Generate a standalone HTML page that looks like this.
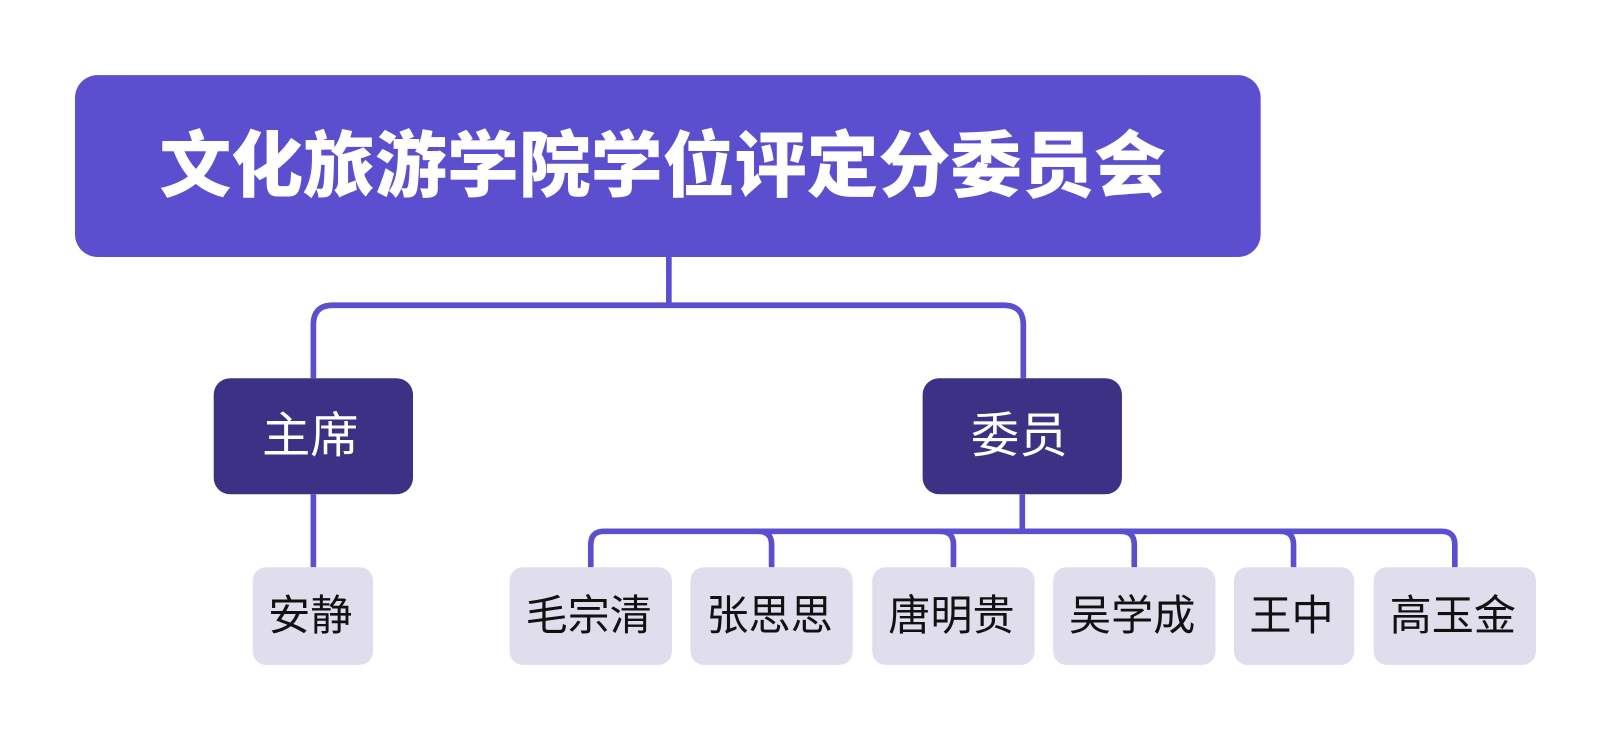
<!DOCTYPE html>
<html><head><meta charset="utf-8"><style>
html,body{margin:0;padding:0;background:#fff;}
svg{display:block;}
text{font-family:"Liberation Sans","Noto Sans CJK SC",sans-serif;}
</style></head><body>
<svg width="1611" height="741" viewBox="0 0 1568 721" xmlns="http://www.w3.org/2000/svg">
<rect width="1568" height="721" fill="#fff"/>
<g fill="none" stroke="#5b4fcf" stroke-width="5.5" stroke-linejoin="round">
<path d="M651 250 V297"/>
<path d="M305 368 V316 Q305 297 324 297 H977 Q996 297 996 316 V368"/>
<path d="M305 481 V552"/>
<path d="M995 481 V517"/>
<path d="M575 552 V530 Q575 517 588 517 H1403 Q1416 517 1416 530 V552"/>
<path d="M738 517 Q751 517 751 530 V552"/>
<path d="M915 517 Q928 517 928 530 V552"/>
<path d="M1091 517 Q1104 517 1104 530 V552"/>
<path d="M1246 517 Q1259 517 1259 530 V552"/>
</g>
<rect x="73" y="73" width="1154" height="177" rx="22" fill="#5b4fcf"/>
<text x="645" y="186" text-anchor="middle" font-size="70" font-weight="900" fill="#fff">文化旅游学院学位评定分委员会</text>
<rect x="208" y="368" width="194" height="113" rx="16" fill="#3b3286"/>
<text x="302" y="440" text-anchor="middle" font-size="47" fill="#fff">主席</text>
<rect x="898" y="368" width="194" height="113" rx="16" fill="#3b3286"/>
<text x="992" y="440" text-anchor="middle" font-size="47" fill="#fff">委员</text>
<g fill="#e0ddec">
<rect x="246" y="552" width="117" height="95" rx="13"/>
<rect x="496" y="552" width="158" height="95" rx="13"/>
<rect x="672" y="552" width="158" height="95" rx="13"/>
<rect x="849" y="552" width="158" height="95" rx="13"/>
<rect x="1025" y="552" width="158" height="95" rx="13"/>
<rect x="1201" y="552" width="117" height="95" rx="13"/>
<rect x="1337" y="552" width="158" height="95" rx="13"/>
</g>
<g font-size="41" fill="#111" text-anchor="middle">
<text x="302" y="613">安静</text>
<text x="573" y="613">毛宗清</text>
<text x="749" y="613">张思思</text>
<text x="926" y="613">唐明贵</text>
<text x="1102" y="613">吴学成</text>
<text x="1257" y="613">王中</text>
<text x="1414" y="613">高玉金</text>
</g>
</svg>
</body></html>
